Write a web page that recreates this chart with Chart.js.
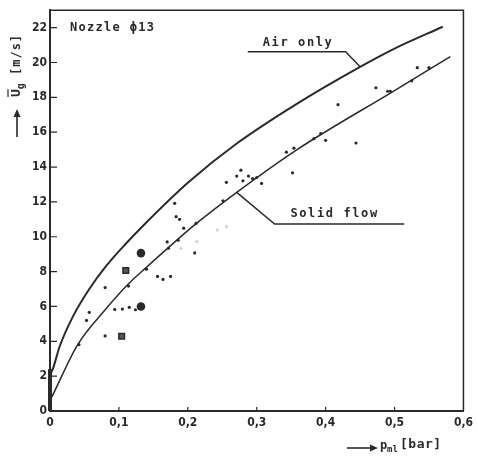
<!DOCTYPE html>
<html>
<head>
<meta charset="utf-8">
<script src="https://cdn.jsdelivr.net/npm/chart.js@4.4.1/dist/chart.umd.min.js"></script>
<style>
  html, body { margin: 0; padding: 0; background: #fff; }
</style>
</head>
<body>
<canvas id="chart" width="478" height="457"></canvas>
<script>
// curves
const airX = [0, 0.004, 0.014, 0.033, 0.057, 0.081, 0.110, 0.138, 0.200, 0.271, 0.357, 0.450, 0.500, 0.570];
const airY = [2.1, 2.4, 3.7, 5.4, 7.0, 8.3, 9.6, 10.75, 13.1, 15.35, 17.6, 19.75, 20.8, 22.05];
const solidX = [0, 0.005, 0.040, 0.081, 0.114, 0.140, 0.171, 0.212, 0.271, 0.357, 0.500, 0.581];
const solidY = [0.6, 1.0, 3.8, 5.85, 7.3, 8.25, 9.35, 10.75, 12.55, 14.96, 18.39, 20.34];

// measured points
const obsX = [0.042, 0.053, 0.057, 0.080, 0.080, 0.094, 0.105, 0.114, 0.115, 0.124, 0.140, 0.156, 0.164, 0.175,
  0.170, 0.172, 0.186, 0.210, 0.181, 0.183, 0.188, 0.194, 0.212, 0.251, 0.256, 0.271, 0.277, 0.280, 0.288,
  0.294, 0.300, 0.307, 0.343, 0.354, 0.352, 0.383, 0.393, 0.400, 0.418, 0.444, 0.473, 0.490, 0.494, 0.525,
  0.533, 0.550];
const obsY = [3.81, 5.2, 5.66, 7.08, 4.31, 5.83, 5.85, 7.17, 5.95, 5.81, 8.14, 7.72, 7.55, 7.72,
  9.7, 9.34, 9.8, 9.07, 11.92, 11.15, 11.0, 10.49, 10.77, 12.06, 13.12, 13.48, 13.82, 13.21, 13.48,
  13.34, 13.4, 13.06, 14.85, 15.08, 13.67, 15.63, 15.92, 15.53, 17.58, 15.38, 18.55, 18.35, 18.35, 18.95,
  19.7, 19.7];
const faintX = [0.190, 0.213, 0.243, 0.256];
const faintY = [9.34, 9.72, 10.39, 10.58];
const dotX = [0.132, 0.132];
const dotY = [9.06, 6.0];
const boxX = [0.110, 0.104];
const boxY = [8.06, 4.29];

const xTicks = [0, 0.1, 0.2, 0.3, 0.4, 0.5, 0.6];
const xTickLabels = ['0', '0,1', '0,2', '0,3', '0,4', '0,5', '0,6'];
const yTicks = [0, 2, 4, 6, 8, 10, 12, 14, 16, 18, 20, 22];

const ink = '#2a2a2a';
const mono = '"DejaVu Sans Mono", monospace';
const tickFont = { family: '"DejaVu Sans Condensed", "DejaVu Sans", sans-serif', size: 12, weight: 'bold' };

function pts(xs, ys) {
  return xs.map((x, i) => ({ x: x, y: ys[i] }));
}

// label anchors, data units
const notes = {
  nozzle: { x: 0.029, y: 22.0 },
  air: { x: 0.36, y: 21.1, lineFrom: 0.287, lineTo: 0.429, lineY: 20.62, tipX: 0.45, tipY: 19.75 },
  solid: { x: 0.413, y: 11.3, lineFrom: 0.326, lineTo: 0.514, lineY: 10.73, tipX: 0.271, tipY: 12.55 }
};

function spaced(ctx, text, x, y, gap, align) {
  ctx.letterSpacing = gap + 'px';
  ctx.textAlign = align;
  ctx.fillText(text, x, y);
  ctx.letterSpacing = '0px';
}

const decor = {
  id: 'decor',
  afterDraw(chart) {
    const ctx = chart.ctx;
    const a = chart.chartArea;
    const sx = chart.scales.x, sy = chart.scales.y;
    ctx.save();
    ctx.strokeStyle = ink;
    ctx.fillStyle = ink;

    // top and right frame
    ctx.lineWidth = 1.5;
    ctx.beginPath();
    ctx.moveTo(a.left, a.top);
    ctx.lineTo(a.right, a.top);
    ctx.lineTo(a.right, a.bottom);
    ctx.stroke();

    // inner tick marks
    ctx.lineWidth = 1.2;
    ctx.beginPath();
    xTicks.slice(1, -1).forEach(v => {
      const px = sx.getPixelForValue(v);
      ctx.moveTo(px, a.bottom);
      ctx.lineTo(px, a.bottom - 4);
    });
    yTicks.slice(1).forEach(v => {
      const py = sy.getPixelForValue(v);
      ctx.moveTo(a.left + 1, py);
      ctx.lineTo(a.left + 7, py);
    });
    ctx.stroke();

    // notes
    ctx.font = 'bold 12px ' + mono;
    ctx.textBaseline = 'middle';
    spaced(ctx, 'Nozzle ϕ13', sx.getPixelForValue(notes.nozzle.x), sy.getPixelForValue(notes.nozzle.y), 1.3, 'left');

    [['Air only', notes.air, 1.6], ['Solid flow', notes.solid, 1.6]].forEach(([txt, n, gap]) => {
      spaced(ctx, txt, sx.getPixelForValue(n.x), sy.getPixelForValue(n.y), gap, 'center');
      ctx.lineWidth = 1.5;
      ctx.beginPath();
      const ly = sy.getPixelForValue(n.lineY);
      if (n.tipX > n.lineTo) {
        ctx.moveTo(sx.getPixelForValue(n.lineFrom), ly);
        ctx.lineTo(sx.getPixelForValue(n.lineTo), ly);
      } else {
        ctx.moveTo(sx.getPixelForValue(n.lineTo), ly);
        ctx.lineTo(sx.getPixelForValue(n.lineFrom), ly);
      }
      ctx.lineTo(sx.getPixelForValue(n.tipX), sy.getPixelForValue(n.tipY));
      ctx.stroke();
    });

    // y title, rotated
    ctx.save();
    ctx.translate(17, 66);
    ctx.rotate(-Math.PI / 2);
    ctx.font = 'bold 13px ' + mono;
    const wU = ctx.measureText('U').width;
    ctx.font = 'bold 10px ' + mono;
    const wg = ctx.measureText('g').width;
    ctx.font = 'bold 12px ' + mono;
    const wRest = ctx.measureText(' [m/s]').width + 5;
    const x0 = -(wU + wg + wRest) / 2;
    ctx.textAlign = 'left';
    ctx.font = 'bold 13px ' + mono;
    ctx.fillText('U', x0, 0);
    ctx.lineWidth = 1.2;
    ctx.beginPath();
    ctx.moveTo(x0, -9);
    ctx.lineTo(x0 + wU, -9);
    ctx.stroke();
    ctx.font = 'bold 10px ' + mono;
    ctx.fillText('g', x0 + wU, 4);
    ctx.font = 'bold 12px ' + mono;
    spaced(ctx, ' [m/s]', x0 + wU + wg, 0, 1, 'left');
    ctx.restore();

    // y arrow
    ctx.lineWidth = 1.6;
    ctx.beginPath();
    ctx.moveTo(17, 137);
    ctx.lineTo(17, 114);
    ctx.stroke();
    ctx.beginPath();
    ctx.moveTo(17, 109);
    ctx.lineTo(13.5, 117);
    ctx.lineTo(20.5, 117);
    ctx.closePath();
    ctx.fill();

    // x title
    ctx.beginPath();
    ctx.moveTo(347, 448);
    ctx.lineTo(372, 448);
    ctx.stroke();
    ctx.beginPath();
    ctx.moveTo(378, 448);
    ctx.lineTo(370, 444.5);
    ctx.lineTo(370, 451.5);
    ctx.closePath();
    ctx.fill();
    ctx.textAlign = 'left';
    ctx.font = 'bold 12px ' + mono;
    ctx.fillText('p', 380, 446);
    ctx.font = 'bold 9px ' + mono;
    ctx.fillText('ml', 387, 450);
    ctx.font = 'bold 13px ' + mono;
    spaced(ctx, '[bar]', 400, 445, 0.5, 'left');

    ctx.restore();
  }
};

new Chart(document.getElementById('chart'), {
  type: 'scatter',
  data: {
    datasets: [
      {
        label: 'Air only',
        data: pts(airX, airY),
        showLine: true,
        borderColor: ink,
        borderWidth: 2,
        pointRadius: 0,
        cubicInterpolationMode: 'monotone',
        clip: false
      },
      {
        label: 'Solid flow',
        data: pts(solidX, solidY),
        showLine: true,
        borderColor: ink,
        borderWidth: 1.5,
        pointRadius: 0,
        cubicInterpolationMode: 'monotone',
        clip: false
      },
      {
        label: 'measured',
        data: pts(obsX, obsY),
        pointRadius: 1.6,
        backgroundColor: ink,
        borderWidth: 0
      },
      {
        label: 'faint',
        data: pts(faintX, faintY),
        pointRadius: 1.6,
        backgroundColor: '#d4d4d4',
        borderWidth: 0
      },
      {
        label: 'dots',
        data: pts(dotX, dotY),
        pointRadius: 4.3,
        backgroundColor: ink,
        borderWidth: 0
      },
      {
        label: 'boxes',
        data: pts(boxX, boxY),
        pointStyle: 'rect',
        pointRadius: 4,
        backgroundColor: '#555',
        borderColor: ink,
        borderWidth: 1.5
      },
      {
        label: 'stub',
        data: [{ x: 0, y: 0 }, { x: 0, y: 2.4 }],
        showLine: true,
        borderColor: ink,
        borderWidth: 4,
        pointRadius: 0,
        clip: false
      }
    ]
  },
  options: {
    responsive: false,
    animation: false,
    layout: { padding: { top: 10, right: 9, left: 0, bottom: 0 } },
    plugins: {
      legend: { display: false },
      tooltip: { enabled: false }
    },
    scales: {
      x: {
        type: 'linear',
        min: 0,
        max: 0.6,
        afterFit(s) { s.height = 46; },
        afterBuildTicks(s) { s.ticks = xTicks.map(v => ({ value: v })); },
        grid: { display: false, drawTicks: false },
        border: { color: ink, width: 2 },
        ticks: {
          color: ink,
          font: tickFont,
          padding: 5,
          maxRotation: 0,
          callback: (v, i) => xTickLabels[i]
        }
      },
      y: {
        type: 'linear',
        min: 0,
        max: 23,
        afterFit(s) { s.width = 50; },
        afterBuildTicks(s) { s.ticks = yTicks.map(v => ({ value: v })); },
        grid: { display: false, drawTicks: false },
        border: { color: ink, width: 2 },
        ticks: {
          color: ink,
          font: tickFont,
          padding: 3
        }
      }
    }
  },
  plugins: [decor]
});
</script>
</body>
</html>
